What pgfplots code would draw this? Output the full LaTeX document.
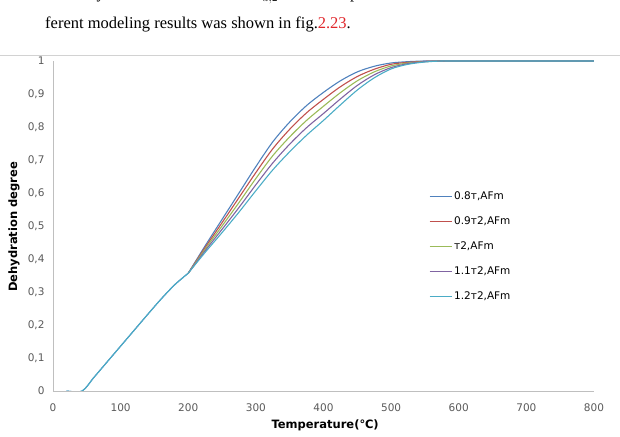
\documentclass[border=0pt]{standalone}
\usepackage{fontspec}
\setmainfont{DejaVu Sans}
\newfontfamily\docfont{Liberation Serif}
\usepackage{pgfplots}
\pgfplotsset{compat=1.18}
\usepackage{pgfplotstable}
\definecolor{cblue}{HTML}{4F81BD}
\definecolor{cred}{HTML}{C0504D}
\definecolor{cgreen}{HTML}{9BBB59}
\definecolor{cpurple}{HTML}{8064A2}
\definecolor{ccyan}{HTML}{4BACC6}
\definecolor{tickgray}{HTML}{595959}
\definecolor{axgray}{HTML}{BFBFBF}
\definecolor{refred}{HTML}{E0262B}

\pgfplotstableread{
T v
20 0
43 0
60 0.04
80 0.088
100 0.136
120 0.184
140 0.232
160 0.279
180 0.322
200 0.357
}\common

\pgfplotstableread{
T a b c d e
200 0.357 0.357 0.357 0.357 0.357
225 0.440 0.435 0.430 0.425 0.420
250 0.520 0.510 0.500 0.490 0.480
275 0.600 0.586 0.571 0.556 0.542
300 0.680 0.662 0.644 0.625 0.607
325 0.755 0.734 0.713 0.691 0.670
350 0.815 0.793 0.770 0.748 0.725
375 0.865 0.843 0.820 0.798 0.775
400 0.905 0.884 0.863 0.841 0.820
425 0.940 0.922 0.904 0.885 0.867
450 0.967 0.953 0.940 0.926 0.912
475 0.984 0.975 0.967 0.958 0.949
500 0.994 0.990 0.985 0.980 0.976
525 0.998 0.996 0.994 0.992 0.990
550 1.000 0.999 0.998 0.998 0.997
575 1.000 1.000 1.000 1.000 1.000
600 1.000 1.000 1.000 1.000 1.000
800 1.000 1.000 1.000 1.000 1.000
}\curves

\begin{document}
\begin{tikzpicture}
% document text above the chart
\node[anchor=base west, font=\docfont\fontsize{16.5bp}{18bp}\selectfont, inner sep=0] at (45bp,437bp+1bp) {tendency with the influence of $E_{a,2}$ . The comparison between the dif};
\node[anchor=base west, font=\docfont\fontsize{16.5bp}{18bp}\selectfont, inner sep=0] at (45bp,437bp-29bp) {ferent modeling results was shown in fig.\textcolor{refred}{2.23}.};
\draw[axgray!70, line width=0.6pt] (0bp,437bp-55bp) -- (620bp,437bp-55bp);

\begin{axis}[
  at={(53bp,46bp)}, anchor=south west,
  scale only axis, width=541bp, height=330bp,
  xmin=0, xmax=800, ymin=0, ymax=1,
  xtick={0,100,...,800},
  ytick={0,0.1,...,1.0},
  axis x line*=bottom, axis y line*=left,
  axis line style={axgray, line width=0.8pt, -},
  major tick length=0pt,
  tick label style={font=\fontsize{10.5bp}{12bp}\selectfont, text=tickgray},
  yticklabel style={xshift=-5bp},
  xticklabel style={yshift=-9bp},
  /pgf/number format/.cd, fixed, precision=1, use comma, assume math mode=true,
  /pgfplots/.cd,
  scaled ticks=false,
  xlabel={\textbf{Temperature(℃)}},
  ylabel={\textbf{Dehydration degree}},
  label style={font=\fontsize{11.5bp}{13bp}\selectfont},
  xlabel style={at={(axis description cs:0.503,-0.103)}, anchor=center},
  ylabel style={at={(axis description cs:-0.072,0.497)}, anchor=center},
  legend cell align=left,
  legend style={draw=none, fill=none, at={(0.695,0.611)}, anchor=north west,
    font=\fontsize{10.5bp}{12bp}\selectfont, row sep=11.7bp, inner sep=0pt},
  legend image code/.code={\draw[#1, line width=1pt] (0bp,0bp) -- (22bp,0bp);},
]
\addplot[cblue, line width=1.1pt, smooth, forget plot] table[x=T,y=v]{\common};
\addplot[cblue, line width=1.1pt, smooth] table[x=T,y=a]{\curves};
\addplot[cred, line width=1.1pt, smooth] table[x=T,y=b]{\curves};
\addplot[cgreen, line width=1.1pt, smooth] table[x=T,y=c]{\curves};
\addplot[cpurple, line width=1.1pt, smooth] table[x=T,y=d]{\curves};
\addplot[ccyan, line width=1.1pt, smooth] table[x=T,y=e]{\curves};
\addplot[ccyan, line width=1.1pt, smooth, forget plot] table[x=T,y=v]{\common};
\legend{{0.8т,AFm}, {0.9т2,AFm}, {т2,AFm}, {1.1т2,AFm}, {1.2т2,AFm}}
\end{axis}
\pgfresetboundingbox
\path[use as bounding box] (0bp,0bp) rectangle (620bp,437bp);
\end{tikzpicture}
\end{document}
